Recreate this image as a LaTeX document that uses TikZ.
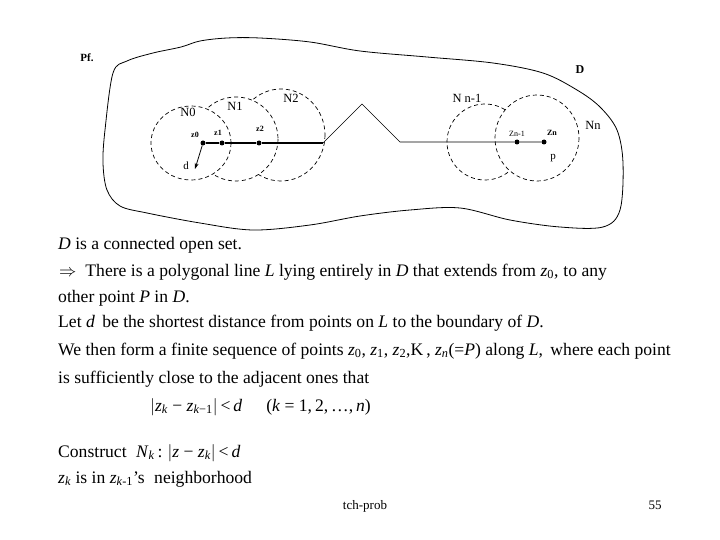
\documentclass[tikz,border=0pt]{standalone}
\usepackage{fontspec}
\setmainfont{Liberation Serif}
\usetikzlibrary{arrows.meta, positioning}

\newcommand{\zsub}[1]{\textit{z}\textsubscript{#1}}
\newcommand{\tallbar}{$\Big|$}

\begin{document}
\begin{tikzpicture}[x=1pt, y=-1pt,
  txt/.style={anchor=base west, inner sep=0pt, font=\fontsize{17.6}{20}\selectfont},
  lbl/.style={inner sep=0pt, font=\fontsize{12.5}{14}\selectfont},
  ptlbl/.style={inner sep=0pt, font=\fontsize{8}{9}\selectfont\bfseries},
  foot/.style={anchor=base, inner sep=0pt, font=\fontsize{13}{15}\selectfont},
  dot/.style={circle, fill, inner sep=0pt, minimum size=5pt},
  nbhd/.style={dash pattern=on 4pt off 3pt, line width=0.7pt},
  thickpath/.style={line width=1.1pt},
  thinpath/.style={line width=0.6pt},
]
  \useasboundingbox (0,0) rectangle (720,540);

  % Region D
  \draw[line width=0.8pt] plot[smooth cycle, tension=0.55] coordinates {
    (113,73) (127,61) (153,53) (181,47) (200,41) (227,38) (260,38) (310,42)
    (360,51) (427,57) (493,63) (543,73) (577,90) (600,107) (617,130) (623,163)
    (620,210) (603,227) (560,227) (510,220) (460,208) (410,210) (360,216)
    (310,225) (253,230) (200,223) (147,213) (120,206) (107,190) (103,163)
    (105,130)};
  \node[font=\fontsize{11}{13}\selectfont\bfseries] (pf) at (87,58) {Pf.};
  \node[font=\fontsize{12}{14}\selectfont\bfseries] (dD) at (580,70) {D};

  % Neighbourhood centres
  \coordinate (c0) at (191,143);
  \coordinate (c1) at (236,139);
  \coordinate (c2) at (281,135);
  \coordinate (cm) at (485,142);
  \coordinate (cn) at (537,138);

  % Neighbourhoods, left
  \draw[nbhd] (c0) ellipse [x radius=40, y radius=37];
  \begin{scope}[even odd rule]
    \clip (0,0) rectangle (720,540) (c0) ellipse [x radius=40, y radius=37];
    \draw[nbhd] (c1) ellipse [x radius=42, y radius=42];
  \end{scope}
  \begin{scope}[even odd rule]
    \clip (0,0) rectangle (720,540) (c1) ellipse [x radius=42, y radius=42];
    \draw[nbhd] (c2) ellipse [x radius=44, y radius=46];
  \end{scope}

  % Neighbourhoods, right
  \draw[nbhd] (cn) ellipse [x radius=42, y radius=43];
  \begin{scope}[even odd rule]
    \clip (0,0) rectangle (720,540) (cn) ellipse [x radius=42, y radius=43];
    \draw[nbhd] (cm) ellipse [x radius=38, y radius=38];
  \end{scope}

  \node[lbl] (n0) at (188,112) {N0};
  \node[lbl] (n1) at (235,106) {N1};
  \node[lbl] (n2) at (291,98) {N2};
  \node[lbl] (nm) at (467,98) {N n-1};
  \node[lbl] (nn) at (593,125) {Nn};

  % Points on L
  \node[dot] (z0) at (203,143) {};
  \node[dot] (z1) at (222,143) {};
  \node[dot] (z2) at (259,143) {};
  \node[dot] (zm) at (517,142) {};
  \node[dot] (zn) at (544,142) {};
  \coordinate (a1) at (323,143);
  \coordinate (a2) at (362,104);
  \coordinate (a3) at (400,142);
  \coordinate (dtip) at (195,169);

  \node[ptlbl] at (195,135) {z0};
  \node[ptlbl] at (218,133) {z1};
  \node[ptlbl] at (260,129) {z2};
  \node[ptlbl, font=\fontsize{8}{9}\selectfont] at (517,134) {Zn-1};
  \node[ptlbl] at (552,133) {Zn};
  \node[lbl, font=\fontsize{11}{13}\selectfont] (pp) at (553,158) {p};
  \node[lbl, font=\fontsize{11}{13}\selectfont] (dd) at (186,166) {d};

  % Polygonal line L
  \draw[thickpath] (z0) -- (z1) -- (z2) -- (a1);
  \draw[thinpath] (a1) -- (a2) -- (a3) -- (zm) -- (zn);
  \draw[line width=0.8pt, -{Stealth[length=6pt, width=4pt]}] (z0) -- (dtip);

  % Text
  \node[txt] (t1) at (58,249) {\textit{D} is a connected open set.};
  \node[txt] (t2) at (59,276) {$\Rightarrow$\hspace{9pt}There is a polygonal line \textit{L} lying entirely in \textit{D} that extends from \zsub{0},\hspace{5pt}to any};
  \node[txt] (t3) at (58,302) {other point \textit{P} in \textit{D}.};
  \node[txt] (t4) at (58,327) {Let \textit{d}\hspace{3pt} be the shortest distance from points on \textit{L} to the boundary of \textit{D}.};
  \node[txt] (t5) at (58,355) {We then form a finite sequence of points \zsub{0}, \zsub{1}, \zsub{2},K\hspace{3pt}, \zsub{\textit{n}}(=\textit{P}) along \textit{L},\hspace{3pt} where each point};
  \node[txt] (t6) at (58,383) {is sufficiently close to the adjacent ones that};
  \node[txt] (t7) at (150,411) {\tallbar\zsub{\textit{k}} − \zsub{\textit{k}−1}\tallbar\,\textless\,\textit{d}\hspace{24pt}(\textit{k} = 1,\,2,\,…,\,\textit{n})};
  \node[txt] (t8) at (58,457) {Construct\hspace{5pt} \textit{N}\textsubscript{\textit{k}}\,:\hspace{5pt}\tallbar\textit{z} − \zsub{\textit{k}}\tallbar\,\textless\,\textit{d}};
  \node[txt] (t9) at (58,483) {\zsub{\textit{k}} is in \zsub{\textit{k}-1}'s\hspace{5pt} neighborhood};

  % Footer
  \node[foot] (ft) at (365,509) {tch-prob};
  \node[foot] (pg) at (655,509) {55};
\end{tikzpicture}
\end{document}
